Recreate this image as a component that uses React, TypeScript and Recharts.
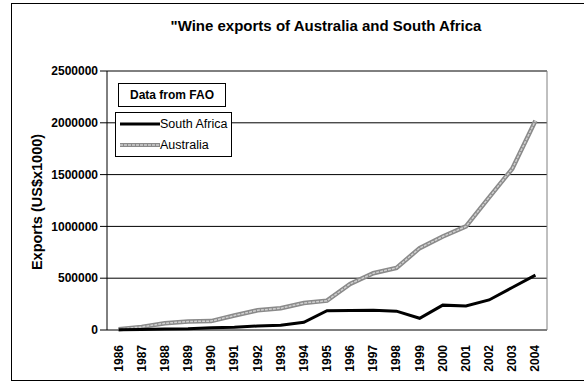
import React from "react";
import {
  LineChart,
  Line,
  XAxis,
  YAxis,
  CartesianGrid,
  ReferenceLine,
} from "recharts";

const years = [
  "1986", "1987", "1988", "1989", "1990", "1991", "1992", "1993", "1994", "1995",
  "1996", "1997", "1998", "1999", "2000", "2001", "2002", "2003", "2004",
];
const southAfrica = [
  3000, 6000, 9000, 12000, 22000, 27000, 39000, 47000, 75000, 187000,
  188000, 190000, 182000, 113000, 240000, 232000, 290000, 410000, 530000,
];
const australia = [
  8000, 30000, 65000, 82000, 86000, 140000, 190000, 210000, 260000, 283000,
  445000, 548000, 600000, 790000, 902000, 1000000, 1280000, 1557000, 2020000,
];
const yTicks = [0, 500000, 1000000, 1500000, 2000000, 2500000];

const data = years.map((y, i) => ({
  year: Number(y),
  southAfrica: southAfrica[i],
  australia: australia[i],
}));
const xTicks = years.map((y) => Number(y));
// tick marks sit between the years, like the original
const boundTicks = [...xTicks.map((y) => y - 0.5), xTicks[xTicks.length - 1] + 0.5];

const font = '"Liberation Sans", Arial, sans-serif';

const YearTick = ({ x, y, payload }: any) => (
  <text
    x={x}
    y={y}
    transform={`rotate(-90, ${x}, ${y})`}
    textAnchor="end"
    dy={4}
    dx={-7}
    fontFamily={font}
    fontWeight="bold"
    fontSize={12}
    fill="#000"
  >
    {payload.value}
  </text>
);

const NoLabel = () => <g />;

const App = () => {
  return (
    <div
      style={{
        position: "absolute",
        left: 0,
        top: 0,
        width: 584,
        height: 383,
        background: "#fff",
        overflow: "hidden",
        fontFamily: font,
      }}
    >
      {/* outer frame */}
      <div
        style={{
          position: "absolute",
          left: 11,
          top: 3,
          width: 600,
          height: 376,
          border: "1.5px solid #000",
        }}
      />
      <div
        style={{
          position: "absolute",
          left: 6,
          width: 640,
          top: 17,
          textAlign: "center",
          fontWeight: "bold",
          fontSize: 15,
        }}
      >
        "Wine exports of Australia and South Africa
      </div>
      <div
        style={{
          position: "absolute",
          left: 37,
          top: 202,
          transform: "translate(-50%, -50%) rotate(-90deg)",
          whiteSpace: "nowrap",
          fontWeight: "bold",
          fontSize: 14.5,
        }}
      >
        Exports (US$x1000)
      </div>

      <LineChart
        width={584}
        height={383}
        data={data}
        margin={{ top: 71, right: 37, left: 47, bottom: 13 }}
        style={{ position: "absolute", left: 0, top: 0 }}
      >
        <CartesianGrid horizontal vertical={false} stroke="#000" strokeWidth={1} />
        <ReferenceLine y={2500000} stroke="#808080" />
        <ReferenceLine x={2004.5} stroke="#808080" />
        <XAxis
          xAxisId="bounds"
          dataKey="year"
          type="number"
          domain={[1985.5, 2004.5]}
          ticks={boundTicks}
          tick={<NoLabel />}
          tickLine={{ stroke: "#000" }}
          tickSize={6}
          axisLine={{ stroke: "#000" }}
          height={0}
          interval={0}
          allowDataOverflow
        />
        <XAxis
          dataKey="year"
          type="number"
          domain={[1985.5, 2004.5]}
          ticks={xTicks}
          tick={<YearTick />}
          tickLine={false}
          axisLine={false}
          height={40}
          interval={0}
          allowDataOverflow
        />
        <YAxis
          domain={[0, 2500000]}
          ticks={yTicks}
          width={60}
          tickSize={7}
          tickLine={{ stroke: "#000" }}
          axisLine={{ stroke: "#000" }}
          tick={{ fill: "#000", fontFamily: font, fontWeight: "bold", fontSize: 12 }}
          interval={0}
        />
        <Line
          dataKey="australia"
          stroke="#8a8a8a"
          strokeWidth={4.5}
          dot={false}
          isAnimationActive={false}
        />
        <Line
          dataKey="australia"
          stroke="#d0d0d0"
          strokeWidth={1.5}
          strokeDasharray="3 1"
          dot={false}
          isAnimationActive={false}
        />
        <Line
          dataKey="southAfrica"
          stroke="#000"
          strokeWidth={3}
          dot={false}
          isAnimationActive={false}
        />
      </LineChart>

      {/* annotation box */}
      <div
        style={{
          position: "absolute",
          left: 118,
          top: 83,
          width: 106,
          height: 22,
          border: "1px solid #000",
          background: "#fff",
          fontWeight: "bold",
          fontSize: 12,
          lineHeight: "22px",
          textAlign: "center",
        }}
      >
        Data from FAO
      </div>

      {/* legend */}
      <div
        style={{
          position: "absolute",
          left: 115,
          top: 112,
          width: 115,
          height: 43,
          border: "1px solid #000",
          background: "#fff",
          fontSize: 12.5,
        }}
      >
        <div style={{ position: "absolute", left: 4, top: 2, display: "flex", alignItems: "center", height: 18 }}>
          <svg width={40} height={6}>
            <line x1={0} y1={3} x2={40} y2={3} stroke="#000" strokeWidth={3} />
          </svg>
          <span>South Africa</span>
        </div>
        <div style={{ position: "absolute", left: 4, top: 23, display: "flex", alignItems: "center", height: 18 }}>
          <svg width={40} height={6}>
            <line x1={0} y1={3} x2={40} y2={3} stroke="#8a8a8a" strokeWidth={4} />
            <line x1={0} y1={3} x2={40} y2={3} stroke="#d0d0d0" strokeWidth={1.5} strokeDasharray="3 1" />
          </svg>
          <span>Australia</span>
        </div>
      </div>
    </div>
  );
};

export default App;
